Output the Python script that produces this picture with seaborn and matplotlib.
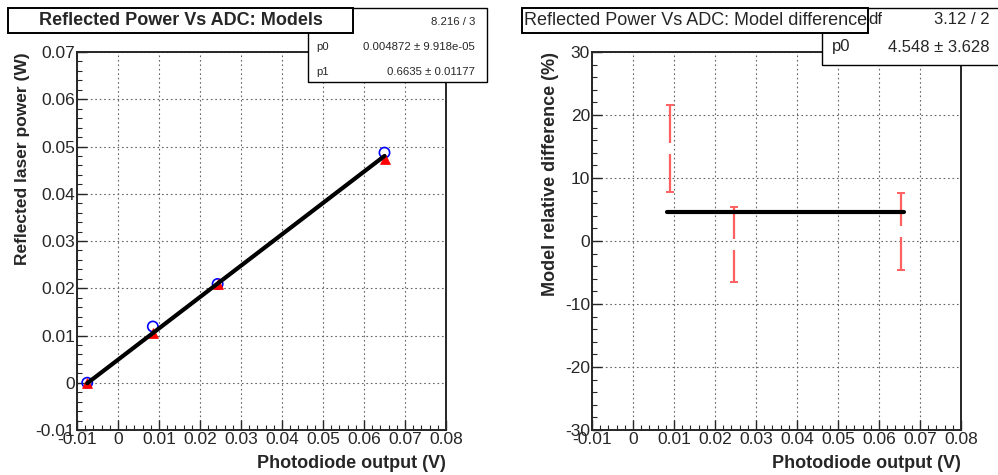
"""Reflected power vs ADC: model comparison and relative difference."""

import numpy as np
import pandas as pd
import matplotlib
matplotlib.use("Agg")
import matplotlib.pyplot as plt
from matplotlib.patches import Rectangle
from matplotlib.ticker import MultipleLocator, FuncFormatter
import seaborn as sns

# left panel: two models of reflected power
adc_v = [-0.0075, 0.0085, 0.0243, 0.065]
power_model_a = [0.0, 0.0119, 0.0209, 0.0487]   # blue open circles
power_model_b = [0.0, 0.0106, 0.0209, 0.0474]   # red triangles
fit_p0 = 0.004872
fit_p1 = 0.6635
fit_range = [-0.0075, 0.065]

# right panel: relative difference between models
diff_x = [0.0090, 0.0246, 0.0654]
diff_pct = [14.7, -0.55, 1.5]
diff_err = [6.9, 5.95, 6.1]
const_p0 = 4.548
const_range = [0.0083, 0.0661]

sns.set_style("ticks")
plt.rcParams["font.family"] = ["Liberation Sans", "DejaVu Sans"]

W, H = 998, 475
fig = plt.figure(figsize=(W / 100, H / 100), dpi=100)


def px_box(x0, y0, x1, y1, lw=1.0):
    """Rectangle given in pixel coords (origin top left)."""
    r = Rectangle((x0 / W, 1 - y1 / H), (x1 - x0) / W, (y1 - y0) / H,
                  transform=fig.transFigure, facecolor="white",
                  edgecolor="black", lw=lw, zorder=5)
    fig.patches.append(r)


def px_text(x, y, s, **kw):
    fig.text(x / W, 1 - y / H, s, zorder=6, va="center", **kw)


def style_axes(ax, ymajor, yminor):
    ax.xaxis.set_major_locator(MultipleLocator(0.01))
    ax.xaxis.set_minor_locator(MultipleLocator(0.002))
    ax.yaxis.set_major_locator(MultipleLocator(ymajor))
    ax.yaxis.set_minor_locator(MultipleLocator(yminor))
    fmt = FuncFormatter(lambda v, _: f"{round(v, 6):g}")
    ax.xaxis.set_major_formatter(fmt)
    ax.yaxis.set_major_formatter(fmt)
    ax.tick_params(which="both", direction="in", top=False, right=False,
                   labelsize=12.5, pad=1.5)
    ax.tick_params(which="major", length=7, width=1.0)
    ax.tick_params(which="minor", length=3.5, width=0.8)
    ax.grid(True, which="major", color="#666666", lw=0.8, linestyle=(0, (1.5, 2.5)))
    for sp in ax.spines.values():
        sp.set_linewidth(1.4)
        sp.set_visible(True)


# ---- left panel
ax1 = fig.add_axes([77 / W, 1 - 430 / H, (446 - 77) / W, (430 - 52) / H])
df = pd.DataFrame({"adc": adc_v, "a": power_model_a, "b": power_model_b})
sns.scatterplot(data=df, x="adc", y="a", marker="o", s=55, facecolors="none",
                edgecolor="blue", linewidth=1.2, ax=ax1, zorder=3)
sns.scatterplot(data=df, x="adc", y="b", marker="^", s=50, color="red",
                edgecolor="red", ax=ax1, zorder=4)
fit_x = np.array(fit_range)
fit_df = pd.DataFrame({"x": fit_x, "y": fit_p0 + fit_p1 * fit_x})
sns.lineplot(data=fit_df, x="x", y="y", color="black", lw=3, ax=ax1, zorder=5)
ax1.set_xlim(-0.01, 0.08)
ax1.set_ylim(-0.01, 0.07)
style_axes(ax1, 0.01, 0.002)
ax1.set_xlabel("Photodiode output (V)", loc="right", fontsize=13, fontweight="bold",
               labelpad=6)
ax1.set_ylabel("Reflected laser power (W)", loc="top", fontsize=12.5, fontweight="bold")

# ---- right panel
ax2 = fig.add_axes([592 / W, 1 - 430 / H, (961 - 592) / W, (430 - 52) / H])
d = pd.DataFrame({"x": diff_x, "y": diff_pct, "e": diff_err})
gap = 0.9  # ROOT leaves a gap where the marker would be
err_col = "#ff6060"
ax2.vlines(d["x"], d["y"] + gap, d["y"] + d["e"], color=err_col, lw=1.6, zorder=3)
ax2.vlines(d["x"], d["y"] - d["e"], d["y"] - gap, color=err_col, lw=1.6, zorder=3)
sns.scatterplot(x=d["x"], y=d["y"] + d["e"], marker="_", s=30, color=err_col,
                linewidth=1.4, ax=ax2, zorder=3)
sns.scatterplot(x=d["x"], y=d["y"] - d["e"], marker="_", s=30, color=err_col,
                linewidth=1.4, ax=ax2, zorder=3)
const_df = pd.DataFrame({"x": const_range, "y": [const_p0, const_p0]})
sns.lineplot(data=const_df, x="x", y="y", color="black", lw=3, ax=ax2, zorder=5)
ax2.set_xlim(-0.01, 0.08)
ax2.set_ylim(-30, 30)
style_axes(ax2, 10, 2)
ax2.set_xlabel("Photodiode output (V)", loc="right", fontsize=13, fontweight="bold",
               labelpad=6)
ax2.set_ylabel("Model relative difference (%)", loc="top", fontsize=13, fontweight="bold")

# ---- stats boxes (ROOT style)
px_box(308, 8, 487, 82)
px_text(475, 22, "8.216 / 3", fontsize=8.2, ha="right")
px_text(316, 47, "p0", fontsize=8.2)
px_text(475, 47, "0.004872 ± 9.918e-05", fontsize=8.2, ha="right")
px_text(316, 72, "p1", fontsize=8.2)
px_text(475, 72, "0.6635 ± 0.01177", fontsize=8.2, ha="right")

px_box(822, 8, 1010, 65)
px_text(868, 20, "df", fontsize=12)
px_text(990, 20, "3.12 / 2", fontsize=12, ha="right")
px_text(832, 47, "p0", fontsize=12)
px_text(990, 47, "4.548 ± 3.628", fontsize=12, ha="right")

# ---- title boxes
px_box(8, 8, 353, 33, lw=1.4)
px_text(181, 20.5, "Reflected Power Vs ADC: Models", fontsize=13,
        fontweight="bold", ha="center")
px_box(522, 8, 868, 33, lw=1.4)
px_text(696, 20.5, "Reflected Power Vs ADC: Model difference", fontsize=13,
        ha="center")

fig.savefig("out.png", dpi=100)
plt.close(fig)
